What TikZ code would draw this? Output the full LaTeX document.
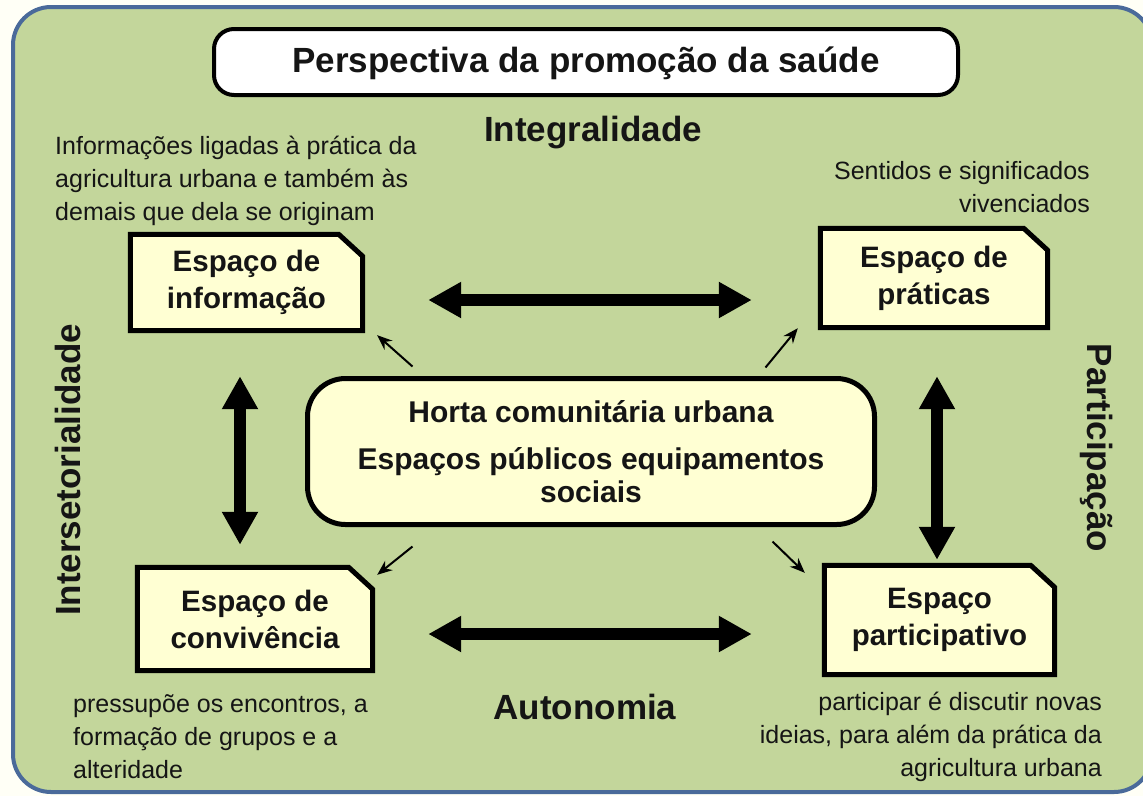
\documentclass[tikz,border=0pt]{standalone}
\usepackage{fontspec}
\setmainfont{Liberation Sans}
\usetikzlibrary{arrows.meta}
\pgfdeclarelayer{back}
\pgfdeclarelayer{mid}
\pgfsetlayers{back,mid,main}
\definecolor{frameblue}{HTML}{4A6A9A}
\definecolor{leaf}{HTML}{C3D69B}
\definecolor{cream}{HTML}{FFFFD3}
\definecolor{paper}{HTML}{FFFFF6}
\definecolor{ink}{HTML}{151515}
\tikzset{
  big/.style={font=\fontsize{35}{40}\selectfont\bfseries, text=ink},
  note/.style={font=\fontsize{25}{33}\selectfont, text=ink, inner sep=0pt},
  espaco/.style={font=\fontsize{29.5}{37}\selectfont\bfseries, text=ink, align=center, inner sep=0pt},
  boxframe/.style={draw=black, line width=5pt, fill=cream, line join=miter},
  bigarrow/.style={line width=12pt, {Triangle[length=33pt,width=34pt]}-{Triangle[length=33pt,width=34pt]}},
  smallarrow/.style={line width=2pt, -{Stealth[length=15pt,width=12pt]}},
}
\begin{document}
\begin{tikzpicture}[x=1pt,y=-1pt]
\useasboundingbox (0,0) rectangle (1143,796);
\begin{pgfonlayer}{back}
  \fill[paper] (0,0) rectangle (1143,796);
  \draw[frameblue, line width=4pt, fill=leaf, rounded corners=38pt] (13,7) rectangle (1152,792);
\end{pgfonlayer}

% title
\node[draw=black, line width=4pt, fill=white, rounded corners=20pt, minimum width=744pt, minimum height=66pt, inner sep=0pt] (title) at (586,62) {};
\node[big] (titletext) at (586,63) {Perspectiva da promoção da saúde};

% side labels
\node[big] (integ) at (593,133) {Integralidade};
\node[big] (auton) at (585,707) {Autonomia};
\node[big, rotate=90] (inters) at (68,470) {Intersetorialidade};
\node[big, rotate=-90] (partic) at (1097,448) {Participação};

% notes
\node[note, align=left, anchor=west] (n1) at (55,181) {Informações ligadas à prática da\\agricultura urbana e também às\\demais que dela se originam};
\node[note, align=right, anchor=east] (n2) at (1090,187) {Sentidos e significados\\vivenciados};
\node[note, align=left, anchor=west] (n3) at (73,737) {pressupõe os encontros, a\\formação de grupos e a\\alteridade};
\node[note, align=right, anchor=east] (n4) at (1102,737) {participar é discutir novas\\ideias, para além da prática da\\agricultura urbana};

% corner boxes (frames drawn on mid layer)
\node[espaco, minimum width=232pt, minimum height=96pt] (info) at (246.5,282.5) {Espaço de\\informação};
\node[espaco, minimum width=227pt, minimum height=99pt] (prat) at (934,278) {Espaço de\\práticas};
\node[espaco, minimum width=235pt, minimum height=103pt] (conv) at (255,619) {Espaço de\\convivência};
\node[espaco, minimum width=230pt, minimum height=109pt] (part) at (939.5,620) {Espaço\\participativo};

% central box
\node[draw=black, line width=5pt, fill=cream, rounded corners=38pt, minimum width=567pt, minimum height=146pt, inner sep=0pt,
      font=\fontsize{30}{33}\selectfont\bfseries, text=ink, align=center] (hub) at (591,451.5)
      {Horta comunitária urbana\\[14pt]Espaços públicos equipamentos\\sociais};

\begin{pgfonlayer}{mid}
  \foreach \n in {info,prat,conv,part} {
    \draw[boxframe] (\n.south west) -- (\n.north west) -- ([xshift=-24pt]\n.north east)
      -- ([yshift=-22pt]\n.north east) -- (\n.south east) -- cycle;
  }
\end{pgfonlayer}

% big double arrows
\draw[bigarrow] ([shift={(65.5,17.5)}]info.east) -- ([shift={(-68.5,22)}]prat.west);
\draw[bigarrow] ([shift={(55.5,15)}]conv.east) -- ([shift={(-72.5,14)}]part.west);
\draw[bigarrow] ([shift={(-6.5,45.5)}]info.south) -- ([shift={(-15,-22.5)}]conv.north);
\draw[bigarrow] ([shift={(3,48.5)}]prat.south) -- ([shift={(-2.5,-5.5)}]part.north);

% small arrows from the hub
\draw[smallarrow] ([shift={(107.5,-9.5)}]hub.north west) -- ([shift={(14.5,4.5)}]info.south east);
\draw[smallarrow] ([shift={(-111.5,-8.5)}]hub.north east) -- ([shift={(-22.5,0.5)}]prat.south west);
\draw[smallarrow] ([shift={(107.5,19.5)}]hub.south west) -- ([shift={(4.5,7.5)}]conv.north east);
\draw[smallarrow] ([shift={(-104.5,14.5)}]hub.south east) -- ([shift={(-19.5,7.5)}]part.north west);
\end{tikzpicture}
\end{document}
